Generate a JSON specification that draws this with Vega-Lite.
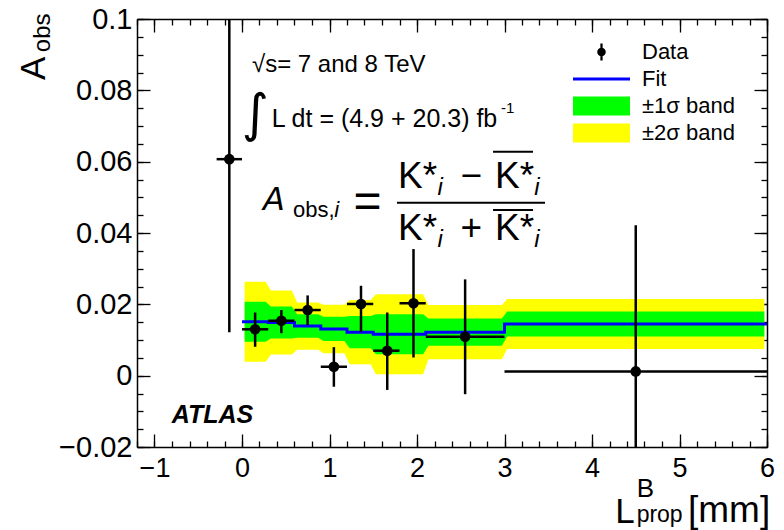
{
  "$schema": "https://vega.github.io/schema/vega-lite/v6.json",
  "width": 630,
  "height": 428,
  "autosize": "none",
  "padding": {"left": 137, "top": 19, "right": 17, "bottom": 83},
  "background": "white",
  "config": {
    "view": {"stroke": null},
    "font": "Liberation Sans",
    "axis": {"grid": false, "title": null, "tickColor": "black", "domainColor": "black", "domainWidth": 1.5, "tickWidth": 1.3, "labelColor": "black", "labelFont": "Liberation Sans", "labelFlush": false, "labelOverlap": false}
  },
  "datasets": {
    "band": [
      {"x": 0.03, "lo2": 0.0039, "lo1": 0.0095, "hi1": 0.0207, "hi2": 0.0263},
      {"x": 0.27, "lo2": 0.0039, "lo1": 0.0095, "hi1": 0.0207, "hi2": 0.0263},
      {"x": 0.33, "lo2": 0.0059, "lo1": 0.0104, "hi1": 0.0194, "hi2": 0.0239},
      {"x": 0.57, "lo2": 0.0059, "lo1": 0.0104, "hi1": 0.0194, "hi2": 0.0239},
      {"x": 0.63, "lo2": 0.0073, "lo1": 0.0106, "hi1": 0.0172, "hi2": 0.0205},
      {"x": 0.87, "lo2": 0.0073, "lo1": 0.0106, "hi1": 0.0172, "hi2": 0.0205},
      {"x": 0.93, "lo2": 0.0063, "lo1": 0.0097, "hi1": 0.0165, "hi2": 0.0199},
      {"x": 1.17, "lo2": 0.0063, "lo1": 0.0097, "hi1": 0.0165, "hi2": 0.0199},
      {"x": 1.23, "lo2": 0.0032, "lo1": 0.0077, "hi1": 0.0167, "hi2": 0.0212},
      {"x": 1.47, "lo2": 0.0032, "lo1": 0.0077, "hi1": 0.0167, "hi2": 0.0212},
      {"x": 1.53, "lo2": 0.0004, "lo1": 0.0060, "hi1": 0.0172, "hi2": 0.0228},
      {"x": 1.77, "lo2": 0.0004, "lo1": 0.0060, "hi1": 0.0172, "hi2": 0.0228},
      {"x": 1.83, "lo2": 0.0004, "lo1": 0.0060, "hi1": 0.0172, "hi2": 0.0228},
      {"x": 2.07, "lo2": 0.0004, "lo1": 0.0060, "hi1": 0.0172, "hi2": 0.0228},
      {"x": 2.13, "lo2": 0.0046, "lo1": 0.0084, "hi1": 0.0160, "hi2": 0.0198},
      {"x": 2.97, "lo2": 0.0046, "lo1": 0.0084, "hi1": 0.0160, "hi2": 0.0198},
      {"x": 3.03, "lo2": 0.0075, "lo1": 0.0110, "hi1": 0.0180, "hi2": 0.0215},
      {"x": 5.97, "lo2": 0.0075, "lo1": 0.0110, "hi1": 0.0180, "hi2": 0.0215}
    ],
    "fit": [
      {"x": 0.0, "fit": 0.0151},
      {"x": 0.3, "fit": 0.0149},
      {"x": 0.6, "fit": 0.0139},
      {"x": 0.9, "fit": 0.0131},
      {"x": 1.2, "fit": 0.0122},
      {"x": 1.5, "fit": 0.0116},
      {"x": 1.8, "fit": 0.0116},
      {"x": 2.1, "fit": 0.0122},
      {"x": 3.0, "fit": 0.0145},
      {"x": 6.0, "fit": 0.0145}
    ],
    "pts": [
      {"x": -0.145, "xlo": -0.29, "xhi": 0.0, "y": 0.0607, "ylo": 0.0122, "yhi": 0.11},
      {"x": 0.15, "xlo": 0.0, "xhi": 0.3, "y": 0.0130, "ylo": 0.0081, "yhi": 0.0177},
      {"x": 0.45, "xlo": 0.3, "xhi": 0.6, "y": 0.0154, "ylo": 0.0119, "yhi": 0.0184},
      {"x": 0.75, "xlo": 0.6, "xhi": 0.9, "y": 0.0184, "ylo": 0.0142, "yhi": 0.0225},
      {"x": 1.05, "xlo": 0.9, "xhi": 1.2, "y": 0.0025, "ylo": -0.0031, "yhi": 0.0080},
      {"x": 1.36, "xlo": 1.2, "xhi": 1.5, "y": 0.0201, "ylo": 0.0123, "yhi": 0.0252},
      {"x": 1.66, "xlo": 1.5, "xhi": 1.8, "y": 0.0070, "ylo": -0.0040, "yhi": 0.0177},
      {"x": 1.96, "xlo": 1.8, "xhi": 2.1, "y": 0.0203, "ylo": 0.0051, "yhi": 0.0355},
      {"x": 2.55, "xlo": 2.1, "xhi": 3.0, "y": 0.0109, "ylo": -0.0052, "yhi": 0.0270},
      {"x": 4.5, "xlo": 3.0, "xhi": 6.0, "y": 0.0012, "ylo": -0.04, "yhi": 0.0422}
    ],
    "legend": [
      {"label": "Data"}, {"label": "Fit"}, {"label": "±1σ band"}, {"label": "±2σ band"}
    ]
  },
  "layer": [
    {
      "data": {"name": "band"},
      "mark": {"type": "area", "fill": "#ffff00", "interpolate": "linear"},
      "encoding": {
        "x": {"field": "x", "type": "quantitative", "scale": {"domain": [-1.2, 6], "nice": false, "zero": false},
              "axis": {"orient": "bottom", "values": [-1, 0, 1, 2, 3, 4, 5, 6], "format": "d", "tickSize": -13, "labelFontSize": 27, "labelPadding": 21}},
        "y": {"field": "hi2", "type": "quantitative", "scale": {"domain": [-0.02, 0.1], "nice": false, "zero": false},
              "axis": {"orient": "left", "values": [-0.02, 0, 0.02, 0.04, 0.06, 0.08, 0.1], "format": "~g", "tickSize": -13, "labelFontSize": 29, "labelPadding": 18}},
        "y2": {"field": "lo2"}
      }
    },
    {
      "data": {"name": "band"},
      "mark": {"type": "area", "fill": "#00ff00", "interpolate": "linear"},
      "encoding": {
        "x": {"field": "x", "type": "quantitative",
              "axis": {"orient": "top", "values": [-1, 0, 1, 2, 3, 4, 5, 6], "tickSize": -13, "labels": false}},
        "y": {"field": "hi1", "type": "quantitative",
              "axis": {"orient": "right", "values": [-0.02, 0, 0.02, 0.04, 0.06, 0.08, 0.1], "tickSize": -13, "labels": false}},
        "y2": {"field": "lo1"}
      }
    },
    {
      "data": {"name": "fit"},
      "mark": {"type": "line", "stroke": "#0000ff", "strokeWidth": 3, "interpolate": "step-after"},
      "encoding": {
        "x": {"field": "x", "type": "quantitative",
              "axis": {"orient": "bottom", "domain": false, "labels": false, "tickSize": -6,
                       "values": [-1.2, -1, -0.8, -0.6, -0.4, -0.2, 0, 0.2, 0.4, 0.6, 0.8, 1, 1.2, 1.4, 1.6, 1.8, 2, 2.2, 2.4, 2.6, 2.8, 3, 3.2, 3.4, 3.6, 3.8, 4, 4.2, 4.4, 4.6, 4.8, 5, 5.2, 5.4, 5.6, 5.8, 6]}},
        "y": {"field": "fit", "type": "quantitative",
              "axis": {"orient": "left", "domain": false, "labels": false, "tickSize": -6,
                       "values": [-0.02, -0.015, -0.01, -0.005, 0, 0.005, 0.01, 0.015, 0.02, 0.025, 0.03, 0.035, 0.04, 0.045, 0.05, 0.055, 0.06, 0.065, 0.07, 0.075, 0.08, 0.085, 0.09, 0.095, 0.1]}}
      }
    },
    {
      "data": {"name": "pts"},
      "mark": {"type": "rule", "color": "black", "strokeWidth": 2.5, "clip": true},
      "encoding": {
        "x": {"field": "xlo", "type": "quantitative",
              "axis": {"orient": "top", "domain": false, "labels": false, "tickSize": -6,
                       "values": [-1.2, -1, -0.8, -0.6, -0.4, -0.2, 0, 0.2, 0.4, 0.6, 0.8, 1, 1.2, 1.4, 1.6, 1.8, 2, 2.2, 2.4, 2.6, 2.8, 3, 3.2, 3.4, 3.6, 3.8, 4, 4.2, 4.4, 4.6, 4.8, 5, 5.2, 5.4, 5.6, 5.8, 6]}},
        "x2": {"field": "xhi"},
        "y": {"field": "y", "type": "quantitative",
              "axis": {"orient": "right", "domain": false, "labels": false, "tickSize": -6,
                       "values": [-0.02, -0.015, -0.01, -0.005, 0, 0.005, 0.01, 0.015, 0.02, 0.025, 0.03, 0.035, 0.04, 0.045, 0.05, 0.055, 0.06, 0.065, 0.07, 0.075, 0.08, 0.085, 0.09, 0.095, 0.1]}}
      }
    },
    {
      "data": {"name": "pts"},
      "mark": {"type": "rule", "color": "black", "strokeWidth": 2.5, "clip": true},
      "encoding": {
        "x": {"field": "x", "type": "quantitative", "axis": null},
        "y": {"field": "ylo", "type": "quantitative", "axis": null},
        "y2": {"field": "yhi"}
      }
    },
    {
      "data": {"name": "pts"},
      "mark": {"type": "point", "filled": true, "shape": "circle", "size": 113, "color": "black", "opacity": 1},
      "encoding": {
        "x": {"field": "x", "type": "quantitative", "axis": null},
        "y": {"field": "y", "type": "quantitative", "axis": null}
      }
    },
    {
      "data": {"name": "legend"},
      "mark": {"type": "point", "filled": true, "opacity": 1, "clip": true, "strokeWidth": 0},
      "encoding": {
        "x": {"datum": -5, "type": "quantitative", "axis": null},
        "y": {"datum": 0.05, "type": "quantitative", "axis": null},
        "color": {"field": "label", "type": "nominal",
                  "scale": {"domain": ["Data", "Fit", "±1σ band", "±2σ band"], "range": ["black", "#0000ff", "#00ff00", "#ffff00"]},
                  "legend": {"orient": "none", "legendX": 436, "legendY": 22, "title": null, "symbolSize": 3249, "clipHeight": 22, "rowPadding": 5, "labelFontSize": 22, "labelOffset": 12, "padding": 0, "symbolStrokeWidth": 0, "labelColor": "black", "labelFont": "Liberation Sans", "labelLimit": 300}},
        "shape": {"field": "label", "type": "nominal",
                  "scale": {"domain": ["Data", "Fit", "±1σ band", "±2σ band"],
                            "range": ["M-0.15,0A0.15,0.15 0 1,1 0.15,0A0.15,0.15 0 1,1 -0.15,0ZM-0.04,-0.3H0.04V0.3H-0.04Z", "M-1,-0.05H1V0.05H-1Z", "M-1,-0.33H1V0.33H-1Z", "M-1,-0.33H1V0.33H-1Z"]}}
      }
    },
    {"data": {"values": [{}]}, "mark": {"type": "text", "text": "√s= 7 and 8 TeV", "fontSize": 24, "align": "left", "baseline": "alphabetic", "color": "black"},
     "encoding": {"x": {"datum": 0.114, "type": "quantitative", "axis": null}, "y": {"datum": 0.0851, "type": "quantitative", "axis": null}}},
    {"data": {"values": [{}]}, "mark": {"type": "text", "text": "∫", "font": "DejaVu Sans", "fontSize": 52, "align": "center", "baseline": "middle", "color": "black"},
     "encoding": {"x": {"datum": 0.149, "type": "quantitative", "axis": null}, "y": {"datum": 0.0731, "type": "quantitative", "axis": null}}},
    {"data": {"values": [{}]}, "mark": {"type": "text", "text": "L dt = (4.9 + 20.3) fb", "fontSize": 25, "align": "left", "baseline": "alphabetic", "color": "black"},
     "encoding": {"x": {"datum": 0.339, "type": "quantitative", "axis": null}, "y": {"datum": 0.0697, "type": "quantitative", "axis": null}}},
    {"data": {"values": [{}]}, "mark": {"type": "text", "text": "-1", "fontSize": 15, "align": "left", "baseline": "alphabetic", "color": "black"},
     "encoding": {"x": {"datum": 2.96, "type": "quantitative", "axis": null}, "y": {"datum": 0.0737, "type": "quantitative", "axis": null}}},
    {"data": {"values": [{}]}, "mark": {"type": "text", "text": "ATLAS", "fontSize": 25, "fontWeight": "bold", "fontStyle": "italic", "align": "left", "baseline": "alphabetic", "color": "black"},
     "encoding": {"x": {"datum": -0.803, "type": "quantitative", "axis": null}, "y": {"datum": -0.01335, "type": "quantitative", "axis": null}}},
    {"data": {"values": [{}]}, "mark": {"type": "text", "text": "A", "font": "DejaVu Sans", "fontSize": 32, "fontStyle": "italic", "align": "left", "baseline": "alphabetic", "color": "black"},
     "encoding": {"x": {"datum": 0.24, "type": "quantitative", "axis": null}, "y": {"datum": 0.04645, "type": "quantitative", "axis": null}}},
    {"data": {"values": [{}]}, "mark": {"type": "text", "text": "obs,", "fontSize": 22, "align": "left", "baseline": "alphabetic", "color": "black"},
     "encoding": {"x": {"datum": 0.583, "type": "quantitative", "axis": null}, "y": {"datum": 0.04449, "type": "quantitative", "axis": null}}},
    {"data": {"values": [{}]}, "mark": {"type": "text", "text": "i", "fontSize": 22, "fontStyle": "italic", "align": "left", "baseline": "alphabetic", "color": "black"},
     "encoding": {"x": {"datum": 1.053, "type": "quantitative", "axis": null}, "y": {"datum": 0.04449, "type": "quantitative", "axis": null}}},
    {"data": {"values": [{}]}, "mark": {"type": "text", "text": "=", "fontSize": 48, "align": "center", "baseline": "middle", "color": "black"},
     "encoding": {"x": {"datum": 1.434, "type": "quantitative", "axis": null}, "y": {"datum": 0.0484, "type": "quantitative", "axis": null}}},
    {"data": {"values": [{}]}, "mark": {"type": "rule", "color": "black", "strokeWidth": 2},
     "encoding": {"x": {"datum": 1.771, "type": "quantitative", "axis": null}, "x2": {"datum": 3.463}, "y": {"datum": 0.0485, "type": "quantitative", "axis": null}}},
    {"data": {"values": [{}]}, "mark": {"type": "text", "text": "K*", "fontSize": 37, "align": "left", "baseline": "alphabetic", "color": "black"},
     "encoding": {"x": {"datum": 1.783, "type": "quantitative", "axis": null}, "y": {"datum": 0.05253, "type": "quantitative", "axis": null}}},
    {"data": {"values": [{}]}, "mark": {"type": "text", "text": "i", "fontSize": 24, "fontStyle": "italic", "align": "left", "baseline": "alphabetic", "color": "black"},
     "encoding": {"x": {"datum": 2.235, "type": "quantitative", "axis": null}, "y": {"datum": 0.05066, "type": "quantitative", "axis": null}}},
    {"data": {"values": [{}]}, "mark": {"type": "text", "text": "−", "fontSize": 37, "align": "center", "baseline": "alphabetic", "color": "black"},
     "encoding": {"x": {"datum": 2.62, "type": "quantitative", "axis": null}, "y": {"datum": 0.05253, "type": "quantitative", "axis": null}}},
    {"data": {"values": [{}]}, "mark": {"type": "text", "text": "K*", "fontSize": 37, "align": "left", "baseline": "alphabetic", "color": "black"},
     "encoding": {"x": {"datum": 2.891, "type": "quantitative", "axis": null}, "y": {"datum": 0.05253, "type": "quantitative", "axis": null}}},
    {"data": {"values": [{}]}, "mark": {"type": "text", "text": "i", "fontSize": 24, "fontStyle": "italic", "align": "left", "baseline": "alphabetic", "color": "black"},
     "encoding": {"x": {"datum": 3.34, "type": "quantitative", "axis": null}, "y": {"datum": 0.05066, "type": "quantitative", "axis": null}}},
    {"data": {"values": [{}]}, "mark": {"type": "rule", "color": "black", "strokeWidth": 2},
     "encoding": {"x": {"datum": 2.869, "type": "quantitative", "axis": null}, "x2": {"datum": 3.326}, "y": {"datum": 0.06279, "type": "quantitative", "axis": null}}},
    {"data": {"values": [{}]}, "mark": {"type": "text", "text": "K*", "fontSize": 37, "align": "left", "baseline": "alphabetic", "color": "black"},
     "encoding": {"x": {"datum": 1.783, "type": "quantitative", "axis": null}, "y": {"datum": 0.03804, "type": "quantitative", "axis": null}}},
    {"data": {"values": [{}]}, "mark": {"type": "text", "text": "i", "fontSize": 24, "fontStyle": "italic", "align": "left", "baseline": "alphabetic", "color": "black"},
     "encoding": {"x": {"datum": 2.235, "type": "quantitative", "axis": null}, "y": {"datum": 0.03616, "type": "quantitative", "axis": null}}},
    {"data": {"values": [{}]}, "mark": {"type": "text", "text": "+", "fontSize": 37, "align": "center", "baseline": "alphabetic", "color": "black"},
     "encoding": {"x": {"datum": 2.62, "type": "quantitative", "axis": null}, "y": {"datum": 0.03804, "type": "quantitative", "axis": null}}},
    {"data": {"values": [{}]}, "mark": {"type": "text", "text": "K*", "fontSize": 37, "align": "left", "baseline": "alphabetic", "color": "black"},
     "encoding": {"x": {"datum": 2.891, "type": "quantitative", "axis": null}, "y": {"datum": 0.03804, "type": "quantitative", "axis": null}}},
    {"data": {"values": [{}]}, "mark": {"type": "text", "text": "i", "fontSize": 24, "fontStyle": "italic", "align": "left", "baseline": "alphabetic", "color": "black"},
     "encoding": {"x": {"datum": 3.34, "type": "quantitative", "axis": null}, "y": {"datum": 0.03616, "type": "quantitative", "axis": null}}},
    {"data": {"values": [{}]}, "mark": {"type": "rule", "color": "black", "strokeWidth": 2},
     "encoding": {"x": {"datum": 2.869, "type": "quantitative", "axis": null}, "x2": {"datum": 3.326}, "y": {"datum": 0.04645, "type": "quantitative", "axis": null}}},
    {"data": {"values": [{}]}, "mark": {"type": "text", "text": "A", "fontSize": 35, "angle": 270, "align": "left", "baseline": "alphabetic", "color": "black"},
     "encoding": {"x": {"datum": -2.251, "type": "quantitative", "axis": null}, "y": {"datum": 0.0829, "type": "quantitative", "axis": null}}},
    {"data": {"values": [{}]}, "mark": {"type": "text", "text": "obs", "fontSize": 24, "angle": 270, "align": "left", "baseline": "alphabetic", "color": "black"},
     "encoding": {"x": {"datum": -2.194, "type": "quantitative", "axis": null}, "y": {"datum": 0.0907, "type": "quantitative", "axis": null}}},
    {"data": {"values": [{}]}, "mark": {"type": "text", "text": "L", "fontSize": 35, "align": "left", "baseline": "alphabetic", "color": "black"},
     "encoding": {"x": {"datum": 4.267, "type": "quantitative", "axis": null}, "y": {"datum": -0.0413, "type": "quantitative", "axis": null}}},
    {"data": {"values": [{}]}, "mark": {"type": "text", "text": "B", "fontSize": 26, "align": "left", "baseline": "alphabetic", "color": "black"},
     "encoding": {"x": {"datum": 4.51, "type": "quantitative", "axis": null}, "y": {"datum": -0.0339, "type": "quantitative", "axis": null}}},
    {"data": {"values": [{}]}, "mark": {"type": "text", "text": "prop", "fontSize": 23, "align": "left", "baseline": "alphabetic", "color": "black"},
     "encoding": {"x": {"datum": 4.51, "type": "quantitative", "axis": null}, "y": {"datum": -0.04102, "type": "quantitative", "axis": null}}},
    {"data": {"values": [{}]}, "mark": {"type": "text", "text": "[mm]", "fontSize": 37, "align": "left", "baseline": "alphabetic", "color": "black"},
     "encoding": {"x": {"datum": 5.097, "type": "quantitative", "axis": null}, "y": {"datum": -0.04102, "type": "quantitative", "axis": null}}}
  ],
  "resolve": {"axis": {"x": "independent", "y": "independent"}}
}
